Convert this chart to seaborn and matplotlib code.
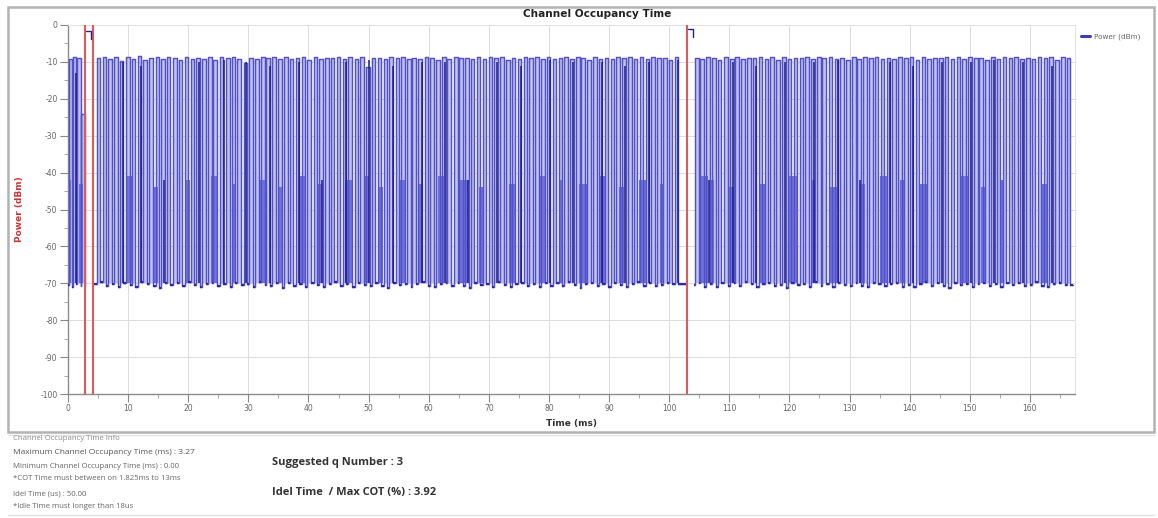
import matplotlib
matplotlib.use("Agg")
import matplotlib.pyplot as plt
from matplotlib.lines import Line2D
from matplotlib.patches import Rectangle
from matplotlib.ticker import MultipleLocator
import numpy as np
import pandas as pd
import seaborn as sns

# ---------------- measured trace data ----------------
# pulse onsets (ms), pulse top level (dBm), noise floor before each pulse (dBm)
pulse_width_ms = 0.6

pulses_a_ms = [0.1, 0.8, 1.5, 2.2]
tops_a_dbm = [-9.2, -8.8, -9.0, -24.0]
floor_a_dbm = [-70.5, -71.0, -70.2, -70.6]

pulses_b_ms = [
    4.8, 5.8, 6.7, 7.7, 8.6, 9.7, 10.6, 11.6, 12.5, 13.5,
    14.6, 15.5, 16.4, 17.5, 18.4, 19.4, 20.4, 21.3, 22.3, 23.3,
    24.2, 25.2, 26.3, 27.2, 28.1, 29.2, 30.1, 31.1, 32.1, 33.0,
    34.0, 35.0, 36.0, 36.9, 37.9, 38.9, 39.8, 40.9, 41.8, 42.8,
    43.7, 44.7, 45.7, 46.6, 47.7, 48.6, 49.6, 50.5, 51.5, 52.5,
    53.4, 54.5, 55.4, 56.4, 57.3, 58.3, 59.3, 60.2, 61.2, 62.2,
    63.1, 64.2, 65.1, 66.1, 67.0, 68.0, 69.0, 70.0, 70.9, 71.9,
    72.9, 73.8, 74.8, 75.8, 76.7, 77.7, 78.7, 79.6, 80.6, 81.6,
    82.5, 83.5, 84.5, 85.4, 86.4, 87.4, 88.3, 89.3, 90.3, 91.2,
    92.2, 93.2, 94.1, 95.1, 96.1, 97.0, 98.0, 99.0, 99.9, 100.9,
]
tops_b_dbm = [
    -9.0, -8.6, -9.3, -8.8, -9.8, -8.7, -9.1, -8.5, -9.4, -8.9,
    -8.7, -9.2, -8.8, -9.0, -9.6, -8.6, -9.1, -8.9, -9.3, -8.7,
    -9.5, -8.8, -9.0, -8.6, -9.2, -10.4, -8.9, -9.1, -8.7, -9.0,
    -8.8, -9.3, -8.6, -9.1, -9.0, -8.8, -9.4, -8.7, -9.2, -8.9,
    -9.0, -8.6, -9.3, -8.8, -9.1, -8.7, -11.5, -9.0, -8.9, -9.2,
    -8.8, -9.0, -8.7, -9.3, -8.9, -9.1, -8.6, -9.0, -9.4, -8.8,
    -9.1, -8.7, -9.0, -8.9, -9.3, -8.6, -9.2, -8.8, -9.0, -8.7,
    -9.4, -8.9, -9.1, -8.6, -9.0, -8.8, -9.3, -8.7, -9.1, -8.9,
    -8.6, -9.2, -8.8, -9.0, -9.5, -8.7, -9.1, -8.9, -9.3, -8.8,
    -9.0, -8.6, -9.2, -8.8, -9.1, -8.7, -9.0, -8.9, -9.4, -8.8,
]
floor_b_dbm = [
    -70.2, -69.6, -70.8, -70.1, -71.0, -69.8, -70.4, -70.9, -69.7, -70.3,
    -70.6, -71.2, -69.9, -70.4, -70.0, -70.8, -69.6, -70.5, -71.1, -70.2,
    -69.8, -70.7, -70.3, -71.0, -69.9, -70.5, -70.1, -70.9, -69.7, -70.4,
    -70.8, -70.0, -71.3, -69.8, -70.6, -70.2, -70.9, -69.9, -70.5, -71.0,
    -70.1, -69.7, -70.7, -70.3, -71.1, -69.9, -70.4, -70.8, -70.0, -70.6,
    -71.2, -69.8, -70.5, -70.1, -70.9, -70.3, -69.7, -70.7, -71.0, -70.2,
    -69.9, -70.6, -70.0, -70.8, -71.2, -69.8, -70.4, -70.1, -70.9, -69.7,
    -70.5, -71.0, -70.2, -69.9, -70.7, -70.3, -71.1, -69.8, -70.6, -70.0,
    -70.8, -69.7, -70.4, -71.2, -70.1, -69.9, -70.7, -70.3, -70.9, -69.8,
    -70.5, -71.0, -70.2, -69.7, -70.6, -70.0, -70.8, -70.4, -69.9, -70.3,
]

pulses_c_ms = [
    104.3, 105.2, 106.2, 107.2, 108.1, 109.1, 110.1, 111.0, 112.0, 113.0,
    113.9, 114.9, 115.9, 116.8, 117.8, 118.8, 119.7, 120.7, 121.7, 122.6,
    123.6, 124.6, 125.5, 126.5, 127.5, 128.4, 129.4, 130.4, 131.3, 132.3,
    133.3, 134.2, 135.2, 136.2, 137.1, 138.1, 139.1, 140.0, 141.0, 142.0,
    142.9, 143.9, 144.9, 145.8, 146.8, 147.8, 148.7, 149.7, 150.7, 151.6,
    152.6, 153.6, 154.5, 155.5, 156.5, 157.4, 158.4, 159.4, 160.3, 161.3,
    162.3, 163.2, 164.2, 165.2, 166.1,
]
tops_c_dbm = [
    -8.9, -9.2, -8.7, -9.0, -9.4, -8.8, -9.1, -8.6, -9.3, -8.9,
    -9.0, -8.7, -9.2, -8.8, -9.5, -8.6, -9.1, -8.9, -9.0, -8.7,
    -9.3, -8.8, -9.0, -8.6, -9.2, -8.9, -9.4, -8.7, -9.1, -8.8,
    -9.0, -8.6, -9.3, -8.9, -9.1, -8.7, -9.0, -8.8, -9.4, -8.6,
    -9.2, -8.9, -9.0, -8.7, -9.3, -8.8, -9.1, -8.6, -9.0, -8.9,
    -9.5, -8.7, -9.2, -8.8, -9.0, -8.6, -9.3, -8.9, -9.1, -8.7,
    -9.0, -8.8, -9.4, -8.7, -9.0,
]
floor_c_dbm = [
    -70.4, -69.8, -70.9, -70.2, -71.1, -69.9, -70.6, -70.0, -70.8, -69.7,
    -70.3, -71.0, -70.1, -69.8, -70.7, -70.4, -71.2, -69.9, -70.5, -70.1,
    -70.9, -69.7, -70.6, -70.2, -71.0, -69.8, -70.4, -70.8, -70.0, -70.6,
    -71.1, -69.9, -70.3, -70.7, -70.1, -69.8, -70.9, -70.4, -71.0, -70.2,
    -69.7, -70.6, -70.0, -70.8, -71.2, -69.9, -70.5, -70.1, -70.9, -70.3,
    -69.8, -70.7, -70.2, -71.0, -69.9, -70.5, -70.0, -70.8, -70.4, -69.7,
    -70.6, -71.1, -70.2, -69.9, -70.5,
]

# trace segments (ms): start, end
segment_start_ms = [0.0, 4.4, 104.15]
segment_end_ms = [2.75, 102.8, 167.2]

# partial bursts reaching about -42 dBm
burst_start_ms = [
    0.0, 1.9, 9.6, 14.2, 19.4, 23.8, 27.3, 31.7, 35.0, 38.5,
    41.5, 46.0, 49.2, 51.8, 55.0, 58.4, 61.5, 65.0, 68.4, 73.4,
    78.4, 81.8, 85.0, 88.4, 91.7, 95.0, 98.4, 105.0, 106.9, 110.0,
    115.0, 120.0, 123.8, 126.8, 131.8, 135.0, 138.4, 141.8, 148.4, 151.8,
    155.0, 161.8,
]
burst_width_ms = [
    0.5, 0.6, 1.2, 0.8, 0.9, 1.1, 0.7, 1.3, 0.6, 1.0,
    0.8, 1.4, 0.9, 0.6, 1.2, 0.7, 1.0, 1.5, 0.8, 0.9,
    1.1, 0.6, 1.3, 0.9, 0.7, 1.2, 0.8, 1.4, 0.6, 1.0,
    0.9, 1.3, 0.7, 1.1, 0.8, 1.2, 0.6, 1.0, 1.4, 0.9,
    0.7, 1.1,
]
burst_top_dbm = [
    -42, -43, -41, -44, -42, -41, -43, -42, -44, -41,
    -43, -42, -41, -44, -42, -43, -41, -42, -44, -43,
    -41, -42, -43, -41, -44, -42, -43, -41, -42, -44,
    -43, -41, -42, -44, -43, -41, -42, -43, -41, -44,
    -42, -43,
]

# single short packets
spike_ms = [
    1.3, 9.2, 12.1, 16.0, 21.8, 25.9, 29.6, 33.6, 38.4, 42.3,
    46.2, 50.1, 54.0, 58.9, 62.7, 66.6, 71.4, 75.3, 80.1, 84.0,
    88.8, 92.7, 96.6, 101.4, 106.7, 110.6, 114.4, 119.3, 124.1, 128.0,
    131.8, 136.7, 140.5, 145.4, 150.2, 154.0, 158.9, 163.7,
]
spike_top_dbm = [
    -13, -10, -11, -42, -10, -9.5, -10, -11, -10, -42,
    -10, -9.5, -11, -10, -10, -42, -10, -11, -9.5, -10,
    -10, -11, -10, -9.5, -42, -10, -11, -10, -10, -9.5,
    -42, -10, -11, -10, -10, -9.5, -10, -11,
]

# channel occupancy markers
cot_marker_ms = [2.8, 4.2, 102.9]
cot_start_ms = [2.95, 103.05]
cot_end_ms = [3.85, 104.0]
cot_level_dbm = [-1.5, -1.0]

x_ticks = list(range(0, 161, 10))
y_ticks = list(range(-100, 1, 10))

info_lines = [
    ("Channel Occupancy Time Info", 439, 5.6, "#8a8a8a"),
    ("Maximum Channel Occupancy Time (ms) : 3.27", 452, 6.0, "#555555"),
    ("Minimum Channel Occupancy Time (ms) : 0.00", 466, 5.6, "#666666"),
    ("*COT Time must between on 1.825ms to 13ms", 478, 5.6, "#666666"),
    ("Idel Time (us) : 50.00", 494, 5.6, "#666666"),
    ("*Idle Time must longer than 18us", 506, 5.6, "#666666"),
]
summary_lines = [
    ("Suggested q Number : 3", 462),
    ("Idel Time  / Max COT (%) : 3.92", 493),
]


def build_trace(starts, tops, floors, t0, t1, width):
    xs = [t0]
    ys = [floors[0]]
    for i, (s, top) in enumerate(zip(starts, tops)):
        after = floors[i + 1] if i + 1 < len(floors) else floors[i]
        xs += [s, s, s + width, s + width]
        ys += [floors[i], top, top, after]
    xs.append(t1)
    ys.append(ys[-1])
    return xs, ys


def floor_pieces(starts, floors, t0, t1, width):
    x0, x1 = [t0], []
    for s in starts:
        x1.append(s)
        x0.append(s + width)
    x1.append(t1)
    levels = list(floors) + [floors[-1]]
    return levels, x0, x1


assert len(pulses_b_ms) == len(tops_b_dbm) == len(floor_b_dbm)
assert len(pulses_c_ms) == len(tops_c_dbm) == len(floor_c_dbm)
assert len(burst_start_ms) == len(burst_width_ms) == len(burst_top_dbm)
assert len(spike_ms) == len(spike_top_dbm)

frames = []
floor_segments = []
segments = [
    (pulses_a_ms, tops_a_dbm, floor_a_dbm),
    (pulses_b_ms, tops_b_dbm, floor_b_dbm),
    (pulses_c_ms, tops_c_dbm, floor_c_dbm),
]
for k, (starts, tops, floors) in enumerate(segments):
    xs, ys = build_trace(starts, tops, floors, segment_start_ms[k],
                         segment_end_ms[k], pulse_width_ms)
    frames.append(pd.DataFrame({"time": xs, "power": ys, "seg": k}))
    floor_segments.append(floor_pieces(starts, floors, segment_start_ms[k],
                                       segment_end_ms[k], pulse_width_ms))
trace = pd.concat(frames, ignore_index=True)

# ---------------- figure ----------------
sns.set_theme(style="white")
plt.rcParams["font.family"] = ["DejaVu Sans"]
plt.rcParams["axes.unicode_minus"] = False

W, H = 1158, 518
fig = plt.figure(figsize=(W / 100, H / 100), dpi=100)
fig.patch.set_facecolor("white")
ax = fig.add_axes([68 / W, 1 - 394 / H, (1075 - 68) / W, (394 - 25) / H])

line_color = "#5252c8"

# light interior of every packet
for k, grp in trace.groupby("seg"):
    ax.fill_between(grp["time"], grp["power"], -70, where=grp["power"] > -69,
                    color="#c3c3ef", lw=0, zorder=1)

# partial bursts
for s, w, top in zip(burst_start_ms, burst_width_ms, burst_top_dbm):
    ax.fill_between([s, s + w], [top, top], -70, color="#7171dc", lw=0,
                    zorder=2)

sns.lineplot(data=trace, x="time", y="power", units="seg", estimator=None,
             sort=False, color=line_color, lw=1.05, ax=ax, zorder=3)

# noise floor between packets
for levels, x0, x1 in floor_segments:
    ax.hlines(levels, x0, x1, color="#2a2aa8", lw=1.6, zorder=3.5)

ax.vlines(spike_ms, -70, spike_top_dbm, color="#1c1c86", lw=1.1, zorder=4)

for xm in cot_marker_ms:
    ax.axvline(xm, color="#de5a5a", lw=1.5, zorder=5)
for s, e, lev in zip(cot_start_ms, cot_end_ms, cot_level_dbm):
    ax.plot([s, e, e], [lev, lev, lev - 2.2], color="#23238f", lw=1.0,
            zorder=6)

ax.set_xlim(0, 167.5)
ax.set_ylim(-100, 0)
ax.set_xticks(x_ticks)
ax.set_yticks(y_ticks)
ax.xaxis.set_minor_locator(MultipleLocator(5))
ax.yaxis.set_minor_locator(MultipleLocator(5))
ax.tick_params(which="major", direction="out", length=5.5, width=0.8,
               color="#888888", labelsize=5.5, labelcolor="#666666", pad=2,
               bottom=True, left=True)
ax.tick_params(which="minor", direction="out", length=3, width=0.6,
               color="#999999", bottom=True, left=True)
ax.grid(True, which="major", color="#dcdcdc", lw=0.7, zorder=0)
ax.set_axisbelow(True)
for side in ("left", "bottom"):
    ax.spines[side].set_color("#8c8c8c")
    ax.spines[side].set_linewidth(1.0)
for side in ("top", "right"):
    ax.spines[side].set_color("#e2e2e2")
    ax.spines[side].set_linewidth(0.7)

ax.set_xlabel("Time (ms)", fontsize=6.5, fontweight="bold", color="#333333",
              labelpad=4)
ax.set_ylabel("Power (dBm)", fontsize=6.5, fontweight="bold", color="#cc3333",
              labelpad=12)
if ax.get_legend() is not None:
    ax.get_legend().remove()

fig.legend(handles=[Line2D([], [], color="#3c3cb0", lw=2.2)],
           labels=["Power (dBm)"], loc="upper left",
           bbox_to_anchor=(1074 / W, 1 - 27 / H), frameon=False,
           fontsize=5.2, handlelength=1.3, handletextpad=0.5,
           labelcolor="#666666")

fig.text(597 / W, 1 - 14 / H, "Channel Occupancy Time", ha="center",
         va="center", fontsize=7.6, fontweight="bold", color="#222222")

# panel frame and info area separators
fig.add_artist(Rectangle((8 / W, 1 - 432 / H), (1154 - 8) / W, (432 - 7) / H,
                         transform=fig.transFigure, fill=False,
                         ec="#b3b3b3", lw=1.8))
for yy in (435, 515):
    fig.add_artist(Line2D([8 / W, 1154 / W], [1 - yy / H, 1 - yy / H],
                          transform=fig.transFigure, color="#e3e3e3", lw=1.0))

for text, yy, size, col in info_lines:
    fig.text(13 / W, 1 - yy / H, text, ha="left", va="center",
             fontsize=size, color=col, family=["Open Sans", "DejaVu Sans"])
for text, yy in summary_lines:
    fig.text(272 / W, 1 - yy / H, text, ha="left", va="center", fontsize=8,
             fontweight="bold", color="#333333",
             family=["Open Sans", "DejaVu Sans"])

fig.savefig("out.png", dpi=100, facecolor="white")
